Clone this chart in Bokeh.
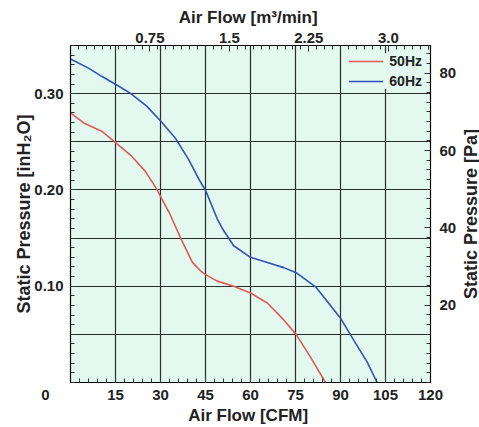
import math
from bokeh.plotting import figure
from bokeh.layouts import row
from bokeh.models import LinearAxis, Range1d, FixedTicker
from bokeh.core.properties import value
from bokeh.embed import file_html
from bokeh.resources import INLINE

# ---- data ----
cfm_50 = [0, 4.4, 10.4, 15.4, 20.4, 24.9, 28.8, 30.2, 33, 36.7, 40.6, 43.3, 45, 48.9, 54.4, 60, 65.6, 71.1, 75.2, 80, 85]
p_50 = [0.280, 0.2696, 0.261, 0.248, 0.235, 0.2195, 0.2006, 0.192, 0.176, 0.150, 0.125, 0.116, 0.112, 0.1053, 0.100, 0.093, 0.0826, 0.065, 0.050, 0.0263, 0.0]

cfm_60 = [0, 6, 10.4, 15.4, 19.9, 25.4, 30.2, 34.9, 39.3, 43.2, 45.1, 48.9, 50.6, 54.4, 60, 65.6, 71.1, 75.2, 81.7, 85.6, 90, 94.4, 98.9, 102.2]
p_60 = [0.336, 0.3265, 0.318, 0.309, 0.3006, 0.287, 0.271, 0.254, 0.232, 0.209, 0.199, 0.170, 0.160, 0.142, 0.130, 0.1246, 0.1193, 0.1141, 0.0994, 0.0842, 0.0668, 0.044, 0.0212, 0.0]

series_labels = ["50Hz", "60Hz"]

cfm_ticks = [0, 15, 30, 45, 60, 75, 90, 105, 120]
cfm_grid = [15, 30, 45, 60, 75, 90, 105]
cfm_minor = [v for v in range(0, 121, 3)]
inh2o_ticks = [0.10, 0.20, 0.30]
inh2o_grid = [0.05, 0.10, 0.15, 0.20, 0.25, 0.30]
inh2o_minor = [round(i * 0.01, 2) for i in range(0, 36)]
m3_ticks = [0.75, 1.5, 2.25, 3.0]
m3_labels = {0.75: "0.75", 1.5: "1.5", 2.25: "2.25", 3.0: "3.0"}
m3_minor = [round(i * 0.075, 3) for i in range(0, 46)]
pa_ticks = [20, 40, 60, 80]
pa_minor = [i * 2.5 for i in range(0, 35)]

CFM_MAX = 120
INH2O_MAX = 0.35
CFM_TO_M3 = 0.0283168
INH2O_TO_PA = 249.089

BG = "#e3f8ef"
TXT = "#222222"
FONT = "Liberation Sans"

p = figure(width=459, height=427, x_range=(0, CFM_MAX), y_range=(0, INH2O_MAX),
           output_backend="svg", toolbar_location=None,
           min_border_left=70, min_border_right=29, min_border_top=45, min_border_bottom=44,
           background_fill_color=BG, border_fill_color="white",
           outline_line_color="black", outline_line_width=1.2)

p.extra_x_ranges = {"m3": Range1d(0, CFM_MAX * CFM_TO_M3)}
p.extra_y_ranges = {"pa": Range1d(0, INH2O_MAX * INH2O_TO_PA)}

def style(ax, title_size):
    ax.major_label_text_font = FONT
    ax.major_label_text_font_style = "bold"
    ax.major_label_text_font_size = "15px"
    ax.major_label_text_color = TXT
    ax.axis_label_text_font = FONT
    ax.axis_label_text_font_style = "bold"
    ax.axis_label_text_color = TXT
    ax.axis_label_text_font_size = title_size
    ax.axis_line_color = "black"
    ax.major_tick_line_color = "#333333"
    ax.minor_tick_line_color = "#333333"
    ax.major_tick_out = 0
    ax.minor_tick_out = 0
    ax.minor_tick_in = 4
    ax.major_tick_in = 6

xb = p.xaxis[0]
xb.ticker = FixedTicker(ticks=cfm_ticks, minor_ticks=cfm_minor)
xb.major_label_overrides = {0: "0" + "\u00a0" * 12}
xb.axis_label = "Air Flow  [CFM]"
style(xb, "17px")
xb.major_label_standoff = 3
xb.axis_label_standoff = 0

yl = p.yaxis[0]
yl.ticker = FixedTicker(ticks=inh2o_ticks, minor_ticks=inh2o_minor)
yl.major_label_overrides = {0.1: "0.10", 0.2: "0.20", 0.3: "0.30"}
yl.axis_label = "Static Pressure [inH\u2082O]"
style(yl, "18px")
yl.major_label_standoff = 7
yl.axis_label_standoff = -3

xt = LinearAxis(x_range_name="m3", axis_label="Air Flow  [m\u00b3/min]")
xt.ticker = FixedTicker(ticks=m3_ticks, minor_ticks=m3_minor)
xt.major_label_overrides = m3_labels
style(xt, "17px")
xt.major_label_standoff = 3
xt.axis_label_standoff = 3
p.add_layout(xt, "above")

yr = LinearAxis(y_range_name="pa")
yr.ticker = FixedTicker(ticks=pa_ticks, minor_ticks=pa_minor)
style(yr, "18px")
yr.major_label_standoff = 9
p.add_layout(yr, "right")

p.xgrid.ticker = FixedTicker(ticks=cfm_grid)
p.ygrid.ticker = FixedTicker(ticks=inh2o_grid)
for g in (p.xgrid, p.ygrid):
    g.grid_line_color = "#243028"
    g.grid_line_width = 1.2
    g.grid_line_alpha = 1.0

p.line(cfm_50, p_50, line_color="#e05a5c", line_width=1.6, legend_label=series_labels[0])
p.line(cfm_60, p_60, line_color="#3352b8", line_width=1.6, legend_label=series_labels[1])

leg = p.legend[0]
leg.location = "top_right"
leg.background_fill_color = BG
leg.background_fill_alpha = 1.0
leg.border_line_color = None
leg.label_text_font = FONT
leg.label_text_font_style = "bold"
leg.label_text_font_size = "14px"
leg.label_text_color = TXT
leg.glyph_width = 35
leg.glyph_height = 16
leg.label_standoff = 6
leg.spacing = 4
leg.padding = 3
leg.margin = 8

# narrow strip holding the right-hand title, read bottom to top
t = figure(width=20, height=427, x_range=(0, 1), y_range=(0, 1),
           output_backend="svg", toolbar_location=None,
           x_axis_location=None, y_axis_location=None, min_border=0,
           outline_line_color=None, background_fill_color="white", border_fill_color="white")
t.grid.visible = False
t.text(x=[0.55], y=[0.5], text=["Static Pressure [Pa]"], angle=math.pi / 2,
       text_align="center", text_baseline="middle", text_font=value(FONT),
       text_font_style="bold", text_font_size="18px", text_color=TXT)

layout = row(p, t, spacing=0)
open("out.html", "w").write(file_html(layout, INLINE))
